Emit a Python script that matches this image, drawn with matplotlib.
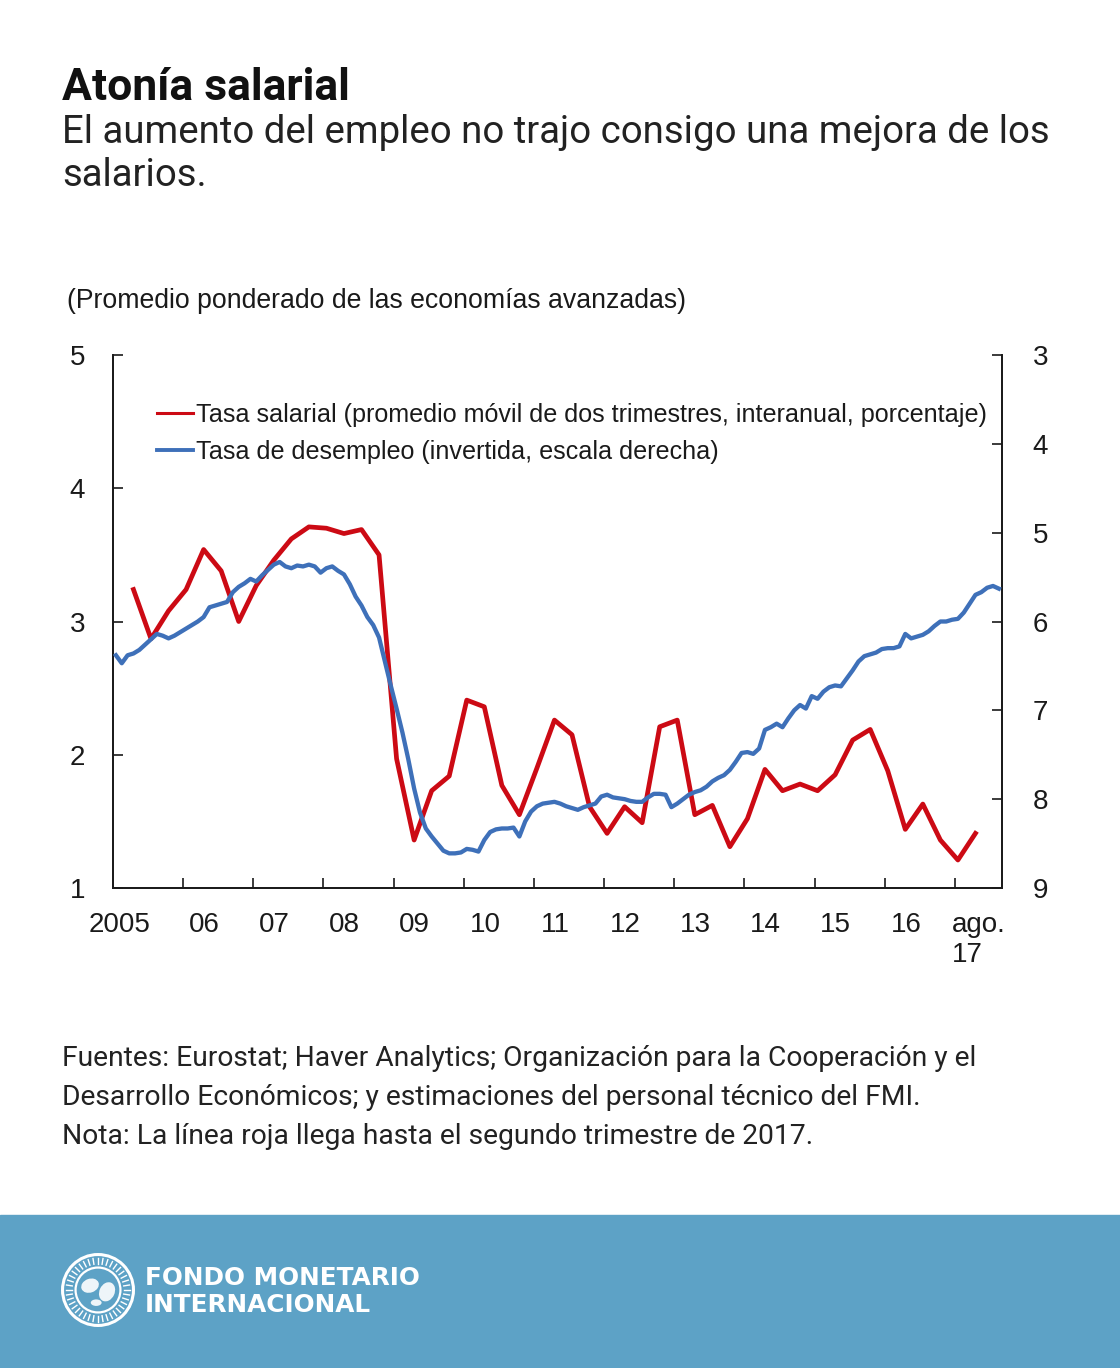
import matplotlib
matplotlib.use('Agg')
import matplotlib.pyplot as plt
import numpy as np
import pandas as pd
from matplotlib.patches import Rectangle, Circle, Ellipse
from matplotlib.lines import Line2D

# ---------------- data ----------------
wage_quarters = pd.period_range('2005Q2', '2017Q2', freq='Q')
wage_growth = [3.24, 2.87, 3.08, 3.24, 3.54, 3.38, 3.00, 3.27, 3.46, 3.62,
               3.71, 3.70, 3.66, 3.69, 3.50, 1.97, 1.36, 1.73, 1.84, 2.41,
               2.36, 1.77, 1.55, 1.90, 2.26, 2.15, 1.61, 1.41, 1.61, 1.49,
               2.21, 2.26, 1.55, 1.62, 1.31, 1.52, 1.89, 1.73, 1.78, 1.73,
               1.85, 2.11, 2.19, 1.88, 1.44, 1.63, 1.36, 1.21, 1.41]

unemp_months = pd.period_range('2005-01', '2017-08', freq='M')
unemployment = [
    6.38, 6.47, 6.38, 6.36, 6.32, 6.26, 6.20, 6.14, 6.16, 6.19, 6.16, 6.12,  # 2005
    6.08, 6.04, 6.00, 5.95, 5.84, 5.82, 5.80, 5.78, 5.67, 5.61, 5.57, 5.52,  # 2006
    5.55, 5.48, 5.42, 5.36, 5.33, 5.38, 5.40, 5.37, 5.38, 5.36, 5.38, 5.45,  # 2007
    5.40, 5.38, 5.43, 5.47, 5.58, 5.72, 5.82, 5.95, 6.04, 6.18, 6.45, 6.72,  # 2008
    6.98, 7.25, 7.55, 7.88, 8.15, 8.33, 8.42, 8.50, 8.58, 8.61, 8.61, 8.60,  # 2009
    8.56, 8.57, 8.59, 8.46, 8.37, 8.34, 8.33, 8.33, 8.32, 8.42, 8.25, 8.14,  # 2010
    8.08, 8.05, 8.04, 8.03, 8.05, 8.08, 8.10, 8.12, 8.09, 8.07, 8.05, 7.97,  # 2011
    7.95, 7.98, 7.99, 8.00, 8.02, 8.03, 8.03, 7.98, 7.94, 7.94, 7.95, 8.09,  # 2012
    8.05, 8.00, 7.95, 7.92, 7.90, 7.86, 7.80, 7.76, 7.73, 7.67, 7.58, 7.48,  # 2013
    7.47, 7.49, 7.43, 7.22, 7.19, 7.15, 7.19, 7.09, 7.00, 6.94, 6.98, 6.84,  # 2014
    6.87, 6.79, 6.74, 6.72, 6.73, 6.64, 6.55, 6.45, 6.39, 6.37, 6.35, 6.31,  # 2015
    6.30, 6.30, 6.28, 6.14, 6.19, 6.17, 6.15, 6.11, 6.05, 6.00, 6.00, 5.98,  # 2016
    5.97, 5.90, 5.80, 5.70, 5.67, 5.62, 5.60, 5.63]                          # 2017

year_ticks = list(range(2006, 2018))
year_labels = ['2005', '06', '07', '08', '09', '10', '11', '12', '13', '14',
               '15', '16', 'ago.\n17']
left_ticks = [1, 2, 3, 4, 5]
right_ticks = [3, 4, 5, 6, 7, 8, 9]

title = 'Atonía salarial'
subtitle = ['El aumento del empleo no trajo consigo una mejora de los',
            'salarios.']
unit_note = '(Promedio ponderado de las economías avanzadas)'
legend_labels = ['Tasa salarial (promedio móvil de dos trimestres, interanual, porcentaje)',
                 'Tasa de desempleo (invertida, escala derecha)']
footer = ['Fuentes: Eurostat; Haver Analytics; Organización para la Cooperación y el',
          'Desarrollo Económicos; y estimaciones del personal técnico del FMI.',
          'Nota: La línea roja llega hasta el segundo trimestre de 2017.']
org_name = ['FONDO MONETARIO', 'INTERNACIONAL']

# ---------------- helpers ----------------
W, H = 1120, 1368
def fx(x):
    return x / W
def fy(y):
    return 1 - y / H

RED = '#CC0A14'
BLUE = '#3E70B9'
INK = '#1a1a1a'
SANS = ['Liberation Sans', 'DejaVu Sans']
ROBO = ['Roboto', 'DejaVu Sans']

wage_x = np.array([p.year + (p.quarter - 1) / 4 + 1 / 24 for p in wage_quarters])
unemp_x = np.array([p.year + (p.month - 0.5) / 12 for p in unemp_months])

fig = plt.figure(figsize=(W / 100, H / 100), dpi=100)
fig.patch.set_facecolor('white')

# blue band (behind everything)
band = Rectangle((0, 0), 1, fy(1215), transform=fig.transFigure,
                 color='#5DA2C6', zorder=-10)
fig.add_artist(band)

# titles
fig.text(fx(62), fy(100), title, fontsize=32, fontweight='bold',
         family=ROBO, color='#111111', va='baseline')
for i, line in enumerate(subtitle):
    fig.text(fx(62), fy(143 + 43 * i), line, fontsize=27.6,
             family=ROBO, color='#222222', va='baseline')
fig.text(fx(67), fy(308), unit_note, fontsize=19.2,
         family=SANS, color=INK, va='baseline')

# main axes
ax = fig.add_axes([fx(113), fy(888), (1002 - 113) / W, (888 - 355) / H])
ax2 = ax.twinx()

ax.plot(wage_x, wage_growth, color=RED, lw=3.4, zorder=3)
ax2.plot(unemp_x, unemployment, color=BLUE, lw=3.1, zorder=3)

ax.set_xlim(2005.0, 2017.67)
ax.set_ylim(1, 5)
ax2.set_ylim(9, 3)

ax.set_yticks(left_ticks)
ax.set_yticklabels([str(v) for v in left_ticks])
ax2.set_yticks(right_ticks)
ax2.set_yticklabels([str(v) for v in right_ticks])

ax.set_xticks(year_ticks)
ax.set_xticklabels([])
label_pos = [2005.10] + [y + 0.30 for y in range(2006, 2017)] + [2017.34]
ax.set_xticks(label_pos, minor=True)
ax.set_xticklabels(year_labels, minor=True)
for t in ax.get_xticklabels(minor=True):
    t.set_multialignment('left')

ax.tick_params(axis='x', which='major', direction='in', length=7, width=1.2, color=INK)
ax.tick_params(axis='x', which='minor', length=0, pad=17, labelsize=20, labelcolor=INK)
ax.tick_params(axis='y', direction='in', length=7, width=1.2, pad=20, labelsize=20,
               color=INK, labelcolor=INK)
ax2.tick_params(axis='y', direction='in', length=7, width=1.2, pad=22, labelsize=20,
                color=INK, labelcolor=INK)
for t in ax.get_xticklabels(minor=True) + ax.get_yticklabels() + ax2.get_yticklabels():
    t.set_fontfamily(SANS)

for a in (ax, ax2):
    a.spines['top'].set_visible(False)
    for s in ('left', 'right', 'bottom'):
        a.spines[s].set_linewidth(1.3)
        a.spines[s].set_color(INK)
    a.set_facecolor('none')

handles = [Line2D([], [], color=RED, lw=2.2), Line2D([], [], color=BLUE, lw=2.8)]
leg = ax2.legend(handles, legend_labels, loc='upper left',
                 bbox_to_anchor=(fx(157), fy(403)), bbox_transform=fig.transFigure,
                 frameon=False, borderpad=0, borderaxespad=0, handlelength=1.45,
                 handletextpad=0.12, labelspacing=0.5,
                 prop=dict(family=SANS, size=18.1))
for t in leg.get_texts():
    t.set_color(INK)

# footer notes
for i, line in enumerate(footer):
    fig.text(fx(62), fy(1066 + 39 * i), line, fontsize=20.3,
             family=ROBO, color='#222222', va='baseline')

# logo
lax = fig.add_axes([fx(60), fy(1328), 76 / W, 76 / H], zorder=5)
lax.set_xlim(-1.05, 1.05)
lax.set_ylim(-1.05, 1.05)
lax.set_aspect('equal')
lax.axis('off')
lax.add_patch(Circle((0, 0), 0.98, fill=False, ec='white', lw=2.2))
lax.add_patch(Circle((0, 0), 0.62, fill=False, ec='white', lw=1.6))
lax.add_patch(Ellipse((-0.22, 0.12), 0.5, 0.38, angle=20, fc='white', ec='none', alpha=0.9))
lax.add_patch(Ellipse((0.25, -0.05), 0.42, 0.55, angle=-25, fc='white', ec='none', alpha=0.9))
lax.add_patch(Ellipse((-0.05, -0.35), 0.3, 0.18, fc='white', ec='none', alpha=0.9))
for ang in np.linspace(0, 2 * np.pi, 40, endpoint=False):
    lax.plot([0.72 * np.cos(ang), 0.88 * np.cos(ang)],
             [0.72 * np.sin(ang), 0.88 * np.sin(ang)], color='white', lw=1.0)

fig.text(fx(145), fy(1285), org_name[0], fontsize=17.8, fontweight='bold',
         family=['DejaVu Sans'], color='white', va='baseline')
fig.text(fx(145), fy(1312), org_name[1], fontsize=17.8, fontweight='bold',
         family=['DejaVu Sans'], color='white', va='baseline')

fig.savefig('out.png', dpi=100, facecolor='white')
